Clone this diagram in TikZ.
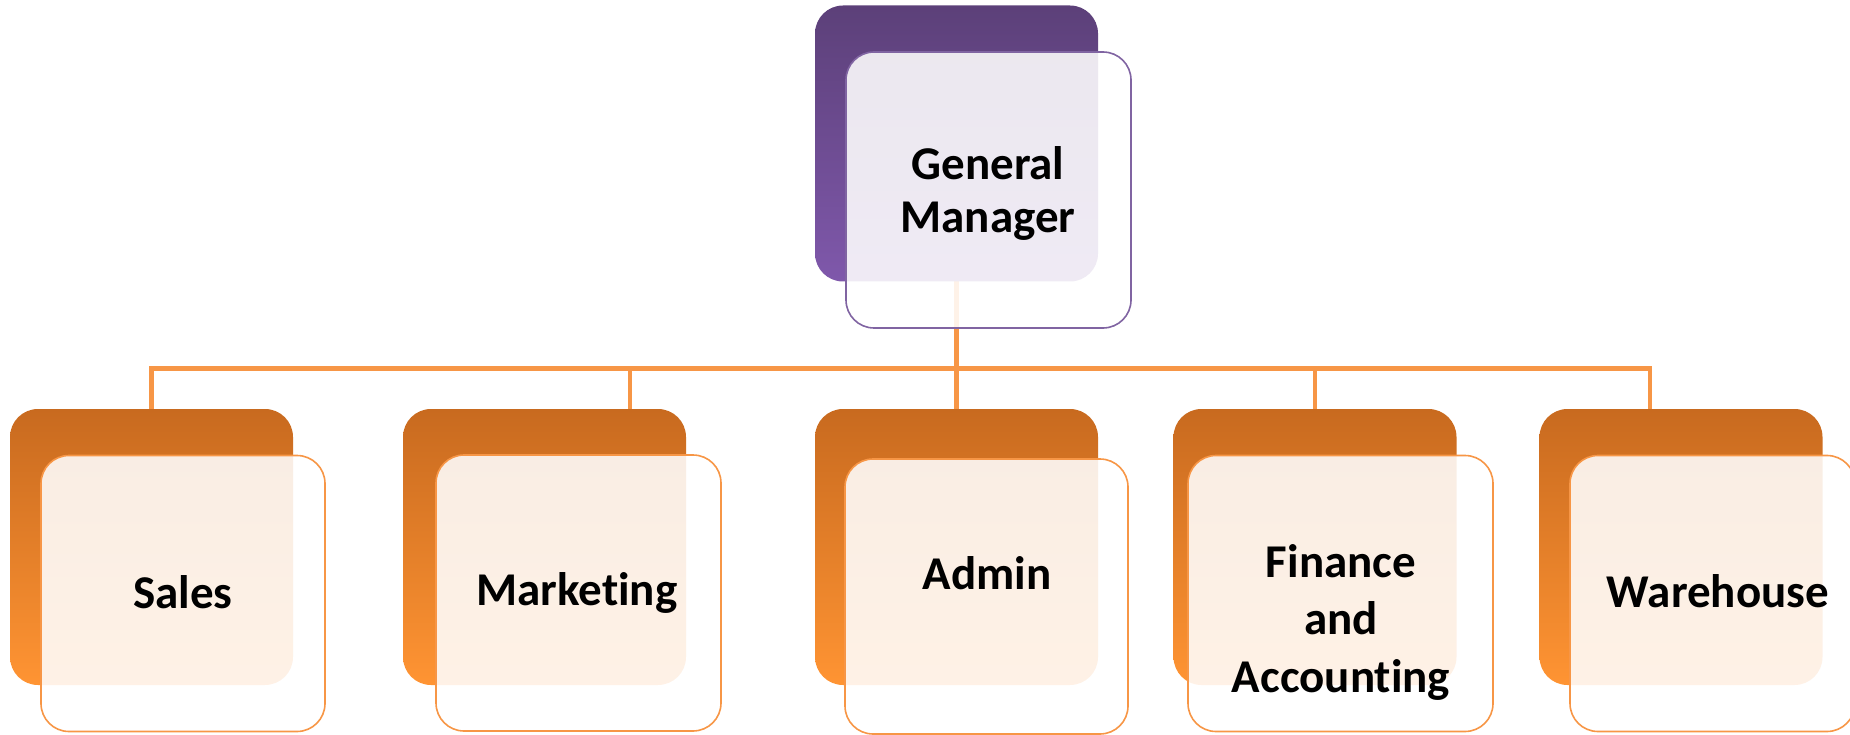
\documentclass[tikz,border=0pt]{standalone}
\usepackage{fontspec}
\setmainfont{Carlito}[RawFeature={-liga;-clig;-calt;-dlig}]
\usetikzlibrary{backgrounds}
\definecolor{gmTop}{HTML}{5C4079}
\definecolor{gmBottom}{HTML}{7F58AB}
\definecolor{gmLine}{HTML}{8064A2}
\definecolor{unitTop}{HTML}{C86A1F}
\definecolor{unitBottom}{HTML}{FF9433}
\definecolor{unitLine}{HTML}{F79646}
\tikzset{
  backbox/.style={rectangle, rounded corners=28pt, inner sep=0pt,
    minimum width=283pt, minimum height=276pt, draw=none},
  gmback/.style={backbox, top color=gmTop, bottom color=gmBottom},
  unitback/.style={backbox, top color=unitTop, bottom color=unitBottom},
  frontbox/.style={rectangle, rounded corners=28pt, inner sep=0pt,
    minimum height=276pt, fill=white, fill opacity=0.88, line width=1.6pt},
  gmfront/.style={frontbox, draw=gmLine, minimum width=285pt},
  unitfront/.style={frontbox, draw=unitLine},
  label/.style={inner sep=0pt, text=black, align=center,
    font=\fontsize{47}{57.5}\selectfont\bfseries},
  conn/.style={draw=unitLine, line width=4.5pt, line cap=rect},
}
\begin{document}
\begin{tikzpicture}[x=1pt,y=-1pt]
\useasboundingbox (0,0) rectangle (1850,735);
\clip (0,0) rectangle (1850,735);

% back panels
\node[gmback]   (gm-back)  at (956.5,143.5) {};
\node[unitback] (sal-back) at (151.5,547)   {};
\node[unitback] (mkt-back) at (544.5,547)   {};
\node[unitback] (adm-back) at (956.5,547)   {};
\node[unitback] (fin-back) at (1315,547)    {};
\node[unitback] (wh-back)  at (1681,547)    {};

% bus coordinates
\coordinate (bus-w)   at (151.5,368.5);
\coordinate (bus-mkt) at (630,368.5);
\coordinate (bus-wh)  at (1650,368.5);

% connectors, kept behind the panels
\begin{scope}[on background layer]
  \path[conn] (sal-back.north) -- (bus-w) -- (bus-wh) -- (bus-wh |- wh-back.north);
  \path[conn] (bus-mkt) -- (bus-mkt |- mkt-back.north);
  \path[conn] (gm-back.south) -- (adm-back.north);
  \path[conn] (fin-back.north) -- (fin-back.north |- bus-w);
\end{scope}

% front panels
\node[gmfront]   (gm)  at (988.5,190)  {};
\node[unitfront, minimum width=284pt] (sal) at (183,593.5)   {};
\node[unitfront, minimum width=285pt] (mkt) at (578.5,593)   {};
\node[unitfront, minimum width=283pt, minimum height=275pt] (adm) at (986.5,596.5) {};
\node[unitfront, minimum width=305pt] (fin) at (1340.5,593.5) {};
\node[unitfront, minimum width=285pt] (wh)  at (1712.5,593.5) {};

% labels
\node[label, font=\fontsize{47}{53}\selectfont\bfseries] (gm-text) at (988,193) {General\\Manager};
\node[label] (sal-text) at (183,592) {Sales};
\node[label] (mkt-text) at (577,593) {Marketing};
\node[label] (adm-text) at (987,573) {Admin};
\node[label] (fin-text) at (1341,622) {Finance\\and\\Accounting};
\node[label] (wh-text)  at (1718,591) {Warehouse};
\end{tikzpicture}
\end{document}
